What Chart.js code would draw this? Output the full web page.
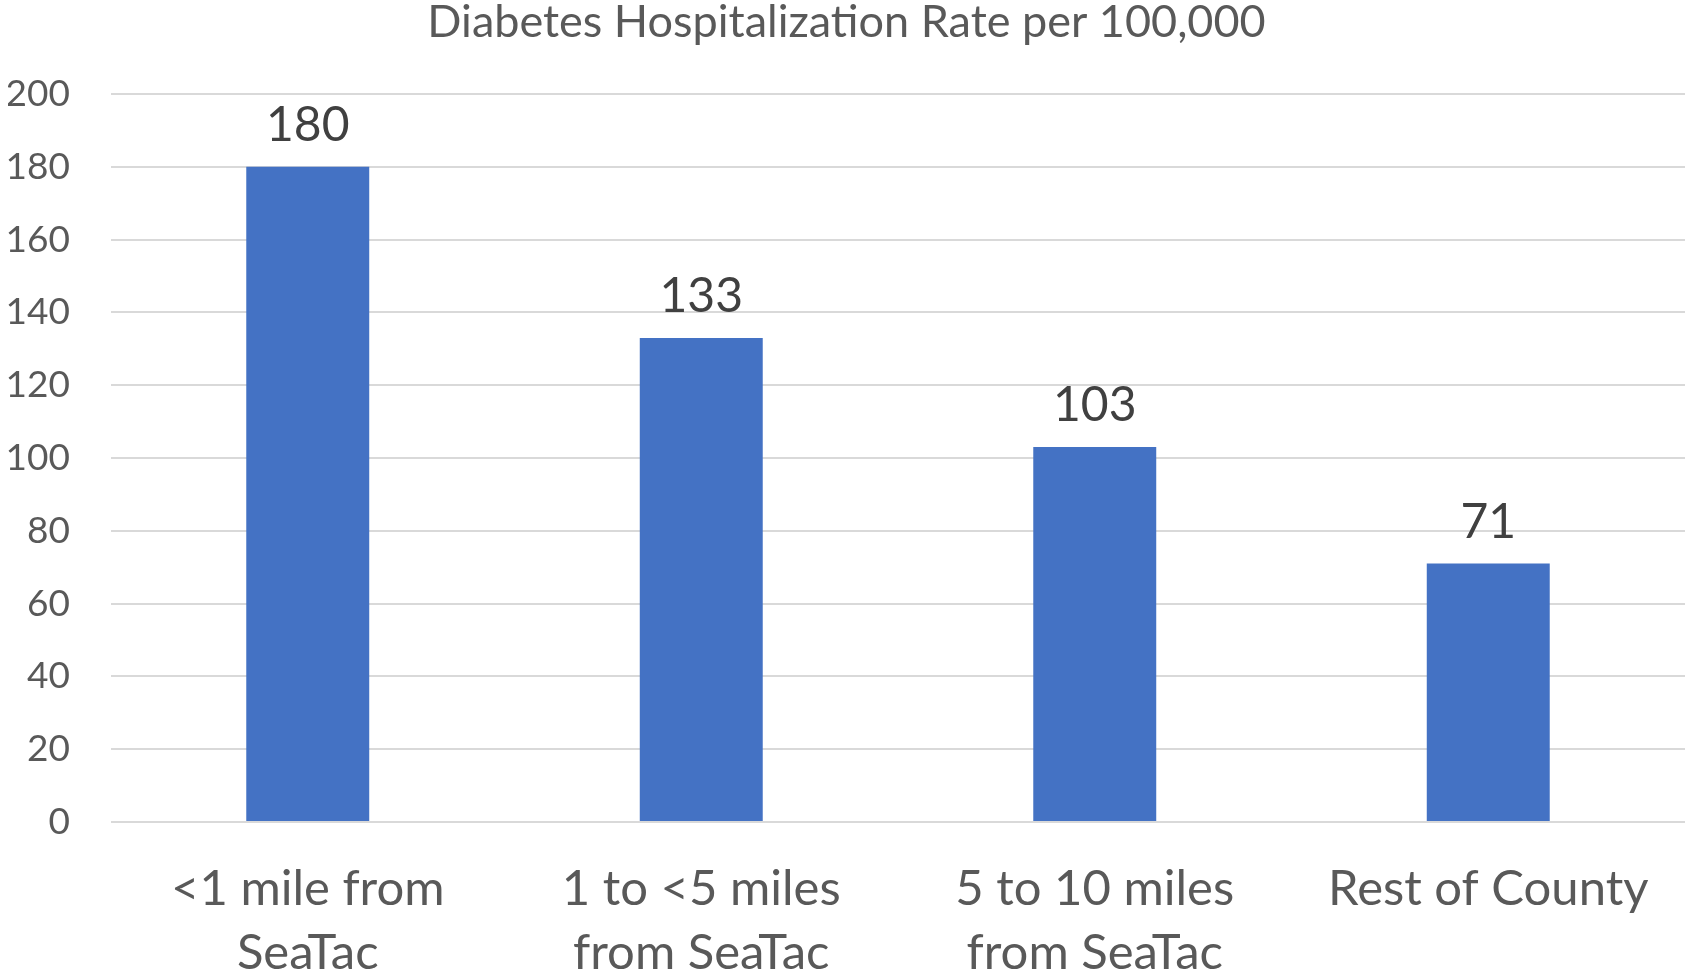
<!DOCTYPE html>
<html>
<head>
<meta charset="utf-8">
<script src="https://cdn.jsdelivr.net/npm/chart.js@4.4.1/dist/chart.umd.min.js"></script>
<style>
  html, body { margin: 0; padding: 0; background: #ffffff; }
  #wrap { width: 1685px; height: 980px; }
</style>
</head>
<body>
<div id="wrap"><canvas id="chart" width="1685" height="980"></canvas></div>
<script>
// Diabetes hospitalization rate by distance from SeaTac airport
const categories = [
  ['<1 mile from', 'SeaTac'],
  ['1 to <5 miles', 'from SeaTac'],
  ['5 to 10 miles', 'from SeaTac'],
  'Rest of County'
];
const rates = [180, 133, 103, 71];
const yTicks = [0, 20, 40, 60, 80, 100, 120, 140, 160, 180, 200];

const FONT = 'Lato, "Open Sans", "DejaVu Sans", sans-serif';

// Writes each bar's value centred above it
const valueLabels = {
  id: 'valueLabels',
  afterDatasetsDraw(chart) {
    const ctx = chart.ctx;
    const meta = chart.getDatasetMeta(0);
    ctx.save();
    ctx.font = '48px ' + FONT;
    ctx.fillStyle = '#404040';
    ctx.textAlign = 'center';
    ctx.textBaseline = 'alphabetic';
    meta.data.forEach((bar, i) => {
      ctx.fillText(String(rates[i]), bar.x, bar.y - 26);
    });
    ctx.restore();
  }
};

new Chart(document.getElementById('chart'), {
  type: 'bar',
  data: {
    labels: categories,
    datasets: [{
      data: rates,
      backgroundColor: '#4472c4',
      borderWidth: 0,
      categoryPercentage: 0.3125,
      barPercentage: 1
    }]
  },
  options: {
    responsive: false,
    devicePixelRatio: 1,
    animation: false,
    layout: { padding: { left: 8, right: 0, top: 0, bottom: 0 } },
    plugins: {
      legend: { display: false },
      tooltip: { enabled: false },
      title: {
        display: true,
        text: 'Diabetes Hospitalization Rate per 100,000',
        color: '#595959',
        font: { family: FONT, size: 45, weight: 'normal', lineHeight: 1 },
        padding: { top: 0, bottom: 49 }
      }
    },
    scales: {
      x: {
        grid: { display: false },
        border: { display: false },
        afterFit(axis) { axis.height = 158; },
        ticks: {
          color: '#595959',
          font: { family: FONT, size: 49, lineHeight: 1.31 },
          padding: 27,
          maxRotation: 0,
          autoSkip: false
        }
      },
      y: {
        min: 0,
        max: 200,
        afterBuildTicks(axis) {
          axis.ticks = yTicks.map(v => ({ value: v }));
        },
        afterFit(axis) { axis.width = 103; },
        grid: { color: '#d9d9d9', lineWidth: 2, drawTicks: false },
        border: { display: false },
        ticks: {
          color: '#595959',
          font: { family: FONT, size: 37 },
          padding: 41
        }
      }
    }
  },
  plugins: [valueLabels]
});
</script>
</body>
</html>
